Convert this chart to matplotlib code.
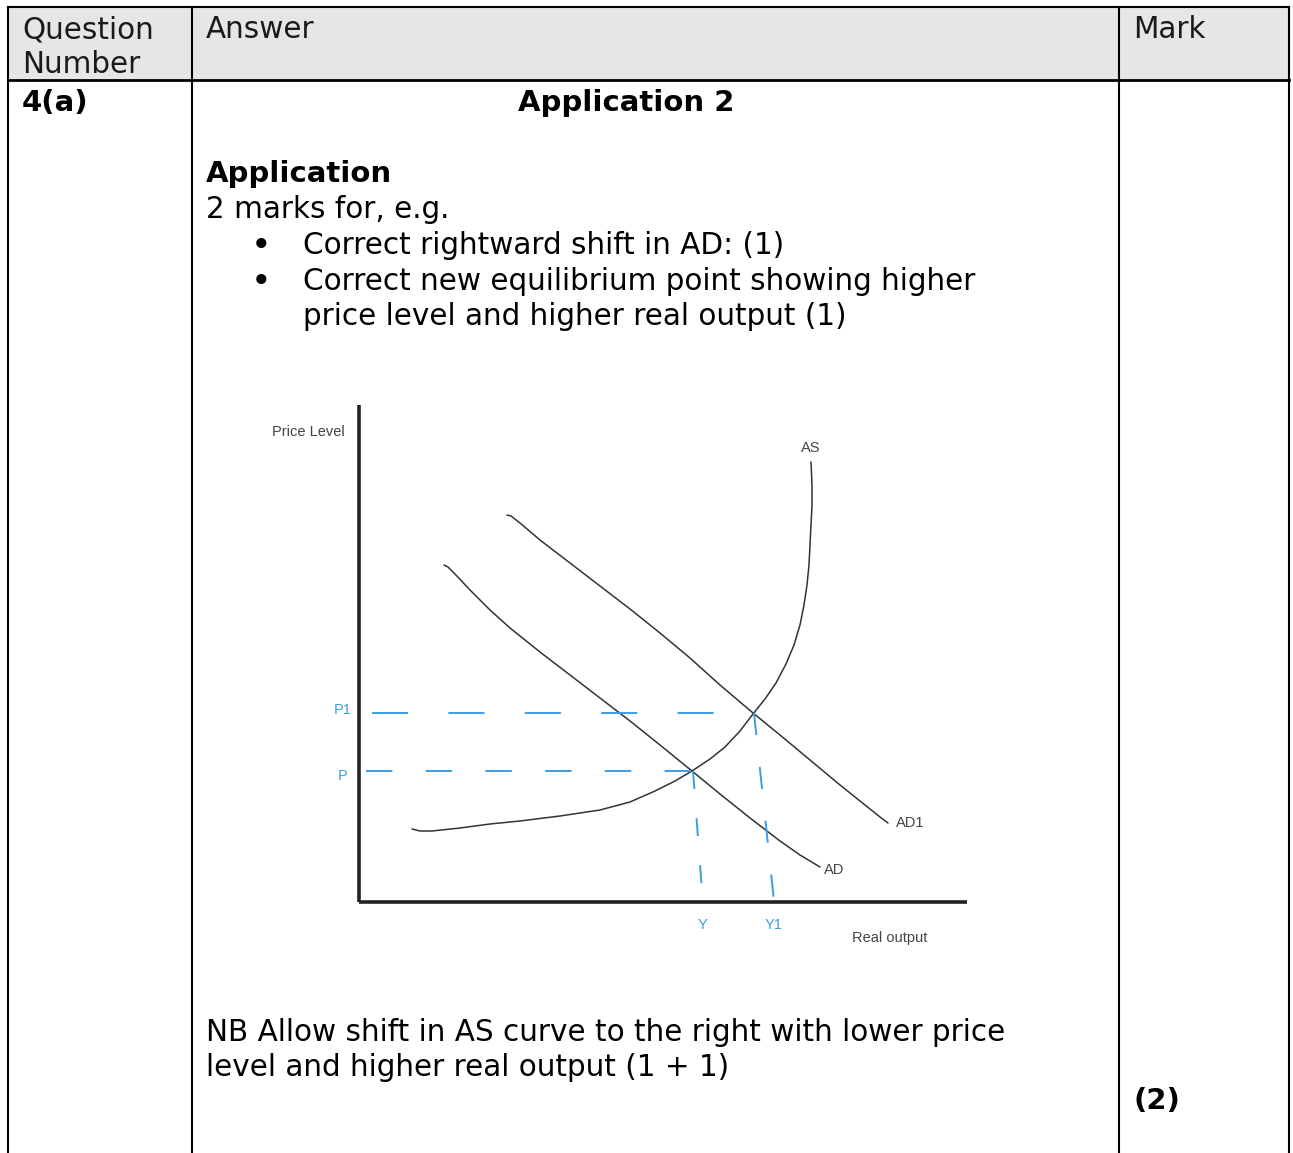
import matplotlib
matplotlib.use("Agg")
import matplotlib.pyplot as plt

plt.rcParams['font.family'] = ['DejaVu Sans']
plt.rcParams['lines.scale_dashes'] = False

# ---------------- data (diagram units: real output / price level) ----------------
as_x = [51, 59, 71, 99, 129, 159, 199, 239, 269, 294, 314, 331, 349, 364, 379, 392, 404, 415, 425, 433,
        439, 443, 446, 448, 449, 450, 451, 451, 450]
as_y = [72, 70, 70, 73, 77, 80, 85, 91, 99, 110, 120, 130, 142, 154, 170, 187, 202, 218, 237, 256,
        276, 296, 316, 336, 356, 376, 396, 416, 439]

ad_x = [83, 87, 94, 109, 129, 149, 179, 209, 239, 269, 299, 331, 359, 389, 419, 439, 459]
ad_y = [336, 334, 327, 311, 291, 273, 249, 226, 203, 180, 156, 130, 107, 83, 60, 46, 34]

ad1_x = [146, 150, 159, 179, 209, 239, 269, 299, 329, 359, 392, 419, 449, 479, 504, 519, 527]
ad1_y = [386, 385, 378, 361, 338, 315, 292, 268, 243, 216, 188, 166, 141, 116, 96, 84, 78]

eq_labels_p = ['P', 'P1']
eq_labels_y = ['Y', 'Y1']
eq_x = [332, 393]          # equilibrium real output
eq_y = [130, 188]          # equilibrium price level
guide_start_x = [5, 11]    # where the dashed price guides start
guide_end_x = [341, 413]   # where the dashed output guides reach the axis
guide_end_y = [10, 0]

header = ['Question\nNumber', 'Answer', 'Mark']
bullets = ['Correct rightward shift in AD: (1)',
           'Correct new equilibrium point showing higher\nprice level and higher real output (1)']
nb_text = 'NB Allow shift in AS curve to the right with lower price\nlevel and higher real output (1 + 1)'

W, H = 1293, 1153
fig = plt.figure(figsize=(W / 100, H / 100), dpi=100)
ax = fig.add_axes([0, 0, 1, 1])
ax.set_xlim(0, W)
ax.set_ylim(H, 0)
ax.axis('off')

# ---------------- table ----------------
ax.fill_between([8, 1289], 7, 80, color='#e6e6e6', zorder=0)
ax.plot([8, 1289], [7, 7], color='black', lw=1.5)
ax.plot([8, 1289], [80, 80], color='black', lw=2.0)
for xv in [8, 192, 1119, 1289]:
    ax.plot([xv, xv], [7, H + 5], color='black', lw=1.5, clip_on=False)

fs = 21.25
fb = 21
hc = '#1a1a1a'
ax.text(22, 38, 'Question', fontsize=fs, va='baseline', color=hc)
ax.text(22, 73, 'Number', fontsize=fs, va='baseline', color=hc)
ax.text(206, 38, header[1], fontsize=fs, va='baseline', color=hc)
ax.text(1133, 38, header[2], fontsize=fs, va='baseline', color=hc)

ax.text(22, 111, '4(a)', fontsize=fb, fontweight='bold', va='baseline')
ax.text(626, 111, 'Application 2', fontsize=fb, fontweight='bold', va='baseline', ha='center')
ax.text(206, 182, 'Application', fontsize=fb, fontweight='bold', va='baseline')
ax.text(206, 218, '2 marks for, e.g.', fontsize=fs, va='baseline')

ax.text(261, 256, '\u2022', fontsize=25, va='baseline', ha='center')
ax.text(303, 254, bullets[0], fontsize=fs, va='baseline')
ax.text(261, 292, '\u2022', fontsize=25, va='baseline', ha='center')
b2 = bullets[1].split('\n')
ax.text(303, 290, b2[0], fontsize=fs, va='baseline')
ax.text(303, 325, b2[1], fontsize=fs, va='baseline')

nb = nb_text.split('\n')
ax.text(206, 1041, nb[0], fontsize=fs, va='baseline')
ax.text(206, 1076, nb[1], fontsize=fs, va='baseline')
ax.text(1133, 1109, '(2)', fontsize=fb, fontweight='bold', va='baseline')

# ---------------- diagram ----------------
dl, db, dw, dh = 361, 901, 606, 496
dax = fig.add_axes([dl / W, (H - db) / H, dw / W, dh / H])
dax.set_xlim(0, dw)
dax.set_ylim(0, dh)
dax.axis('off')
dax.patch.set_alpha(0)

axis_col = '#222222'
dax.plot([-2, -2], [-1, dh], color=axis_col, lw=2.6, clip_on=False, solid_capstyle='butt')
dax.plot([-2, dw], [-1, -1], color=axis_col, lw=2.6, clip_on=False, solid_capstyle='butt')

curve_col = '#333333'
for cx, cy in [(as_x, as_y), (ad_x, ad_y), (ad1_x, ad1_y)]:
    dax.plot(cx, cy, color=curve_col, lw=1.1, clip_on=False,
             solid_joinstyle='round', solid_capstyle='round')

blue = '#3c9ee0'
h_dashes = [(0, (19, 24)), (0, (26, 29))]
v_dashes = [(0, (13, 21)), (0, (16, 23))]
for i in range(2):
    dax.plot([guide_start_x[i], eq_x[i]], [eq_y[i], eq_y[i]], color=blue, lw=1.4,
             linestyle=h_dashes[i], clip_on=False)
    dax.plot([eq_x[i], guide_end_x[i]], [eq_y[i], guide_end_y[i]], color=blue, lw=1.4,
             linestyle=v_dashes[i], clip_on=False)

lf = 'Liberation Sans'
lfs = 10.5
dax.text(-16, 469, 'Price Level', fontsize=lfs, family=lf, color='#444444', ha='right', va='center')
dax.text(529, -37, 'Real output', fontsize=lfs, family=lf, color='#444444', ha='center', va='center')
dax.text(450, 453, 'AS', fontsize=lfs, family=lf, color='#444444', ha='center', va='center')
dax.text(535, 78, 'AD1', fontsize=lfs, family=lf, color='#444444', ha='left', va='center')
dax.text(463, 31, 'AD', fontsize=lfs, family=lf, color='#444444', ha='left', va='center')
dax.text(-18, 191, eq_labels_p[1], fontsize=lfs, family=lf, color=blue, ha='center', va='center')
dax.text(-18, 125, eq_labels_p[0], fontsize=lfs, family=lf, color=blue, ha='center', va='center')
dax.text(341, -24, eq_labels_y[0], fontsize=lfs, family=lf, color=blue, ha='center', va='center')
dax.text(413, -24, eq_labels_y[1], fontsize=lfs, family=lf, color=blue, ha='center', va='center')

fig.savefig('out.png', dpi=100)
